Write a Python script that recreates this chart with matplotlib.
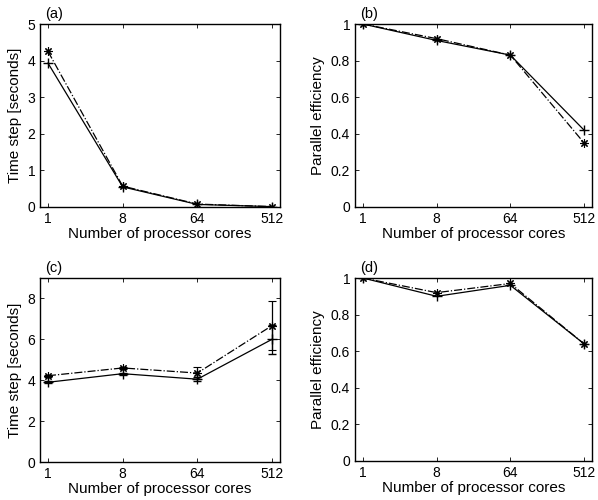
import matplotlib
matplotlib.use("Agg")
import matplotlib.pyplot as plt
import numpy as np

plt.rcParams['font.family'] = ['Liberation Sans', 'DejaVu Sans']

cores = [1, 8, 64, 512]
core_labels = ["1", "8", "64", "512"]

# (a) time step, strong scaling
a_plus = [3.93, 0.55, 0.07, 0.01]
a_star = [4.25, 0.57, 0.08, 0.01]
# (b) parallel efficiency, strong scaling
b_plus = [1.0, 0.91, 0.83, 0.42]
b_star = [1.0, 0.92, 0.83, 0.35]
# (c) time step, weak scaling, with error bars
c_plus = [3.9, 4.32, 4.05, 6.0]
c_plus_err = [0.05, 0.05, 0.1, 0.7]
c_star = [4.22, 4.6, 4.35, 6.67]
c_star_err = [0.05, 0.05, 0.3, 1.2]
# (d) parallel efficiency, weak scaling
d_plus = [1.0, 0.9, 0.96, 0.64]
d_star = [1.0, 0.92, 0.97, 0.64]

asterisco = (8, 2, 0)  # asterisco tipo matlab

fig = plt.figure(figsize=(5.98, 5.0), dpi=100)

W = 240 / 598
W2 = 237 / 598
H = 0.366
axa = fig.add_axes([40 / 598, 0.586, W, H])
axb = fig.add_axes([355 / 598, 0.586, W2, H])
axc = fig.add_axes([40 / 598, 0.076, W, 0.368])
axd = fig.add_axes([355 / 598, 0.078, W2, 0.366])


def estilo(ax, ylim, yticks, ylabel, letra):
    ax.set_xscale('log', base=2)
    ax.set_xlim(0.8, 640)
    ax.set_xticks(cores)
    ax.set_xticklabels(core_labels)
    ax.minorticks_off()
    ax.set_ylim(*ylim)
    ax.set_yticks(yticks)
    ax.set_yticklabels([("%g" % t) for t in yticks])
    ax.tick_params(direction='in', top=True, right=True, labelsize=10, length=3, width=0.6)
    for s in ax.spines.values():
        s.set_linewidth(1.0)
    ax.set_xlabel("Number of processor cores", fontsize=11, labelpad=1)
    ax.set_ylabel(ylabel, fontsize=11, labelpad=4)
    ax.text(0.02, 1.015, letra, transform=ax.transAxes, fontsize=10.5, va='bottom', ha='left')


def lineas(ax, yplus, ystar):
    ax.plot(cores, yplus, '-', color='k', marker='+', ms=7, lw=0.9, mew=1.0)
    ax.plot(cores, ystar, '-.', color='k', marker=asterisco, ms=6, lw=0.9, mew=0.8)


lineas(axa, a_plus, a_star)
estilo(axa, (0, 5), [0, 1, 2, 3, 4, 5], "Time step [seconds]", "(a)")

lineas(axb, b_plus, b_star)
estilo(axb, (0, 1), [0, 0.2, 0.4, 0.6, 0.8, 1], "Parallel efficiency", "(b)")

axc.errorbar(cores, c_plus, yerr=c_plus_err, fmt='-', color='k', marker='+', ms=7,
             lw=0.9, mew=1.0, elinewidth=0.9, capsize=3)
axc.errorbar(cores, c_star, yerr=c_star_err, fmt='-.', color='k', marker=asterisco, ms=6,
             lw=0.9, mew=0.8, elinewidth=0.9, capsize=3)
estilo(axc, (0, 9), [0, 2, 4, 6, 8], "Time step [seconds]", "(c)")

lineas(axd, d_plus, d_star)
estilo(axd, (0, 1), [0, 0.2, 0.4, 0.6, 0.8, 1], "Parallel efficiency", "(d)")

fig.savefig("out.png", dpi=100)
